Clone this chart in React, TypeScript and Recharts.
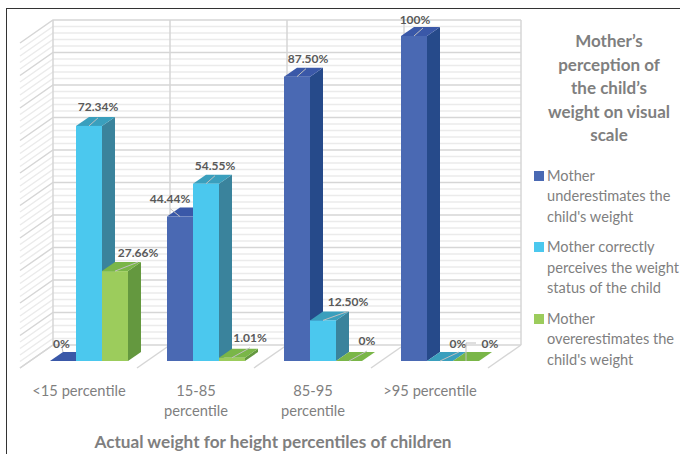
import { Bar, BarChart, CartesianGrid, LabelList, Legend, XAxis, YAxis } from "recharts";

const FONT = "Lato, 'Open Sans', sans-serif";

const categories = ["<15 percentile", "15-85\npercentile", "85-95\npercentile", ">95 percentile"];
const underestimates = [0, 44.44, 87.5, 100];
const correct = [72.34, 54.55, 12.5, 0];
const overestimates = [27.66, 1.01, 0, 0];
const gridTicks = [
  0, 2, 4, 6, 8, 10, 12, 14, 16, 18, 20, 22, 24, 26, 28, 30, 32, 34, 36, 38, 40, 42, 44, 46, 48, 50,
  52, 54, 56, 58, 60, 62, 64, 66, 68, 70, 72, 74, 76, 78, 80, 82, 84, 86, 88, 90, 92, 94, 96, 98, 100,
];

const data = categories.map((category, i) => ({
  category,
  underestimates: underestimates[i],
  correct: correct[i],
  overestimates: overestimates[i],
}));

// extrusion of a bar, and of the back wall relative to the plane of the bars
const BAR_DX = 13;
const BAR_DY = 9;
const WALL_DX = 22.5;
const WALL_DY = 16;
const SIDE_DX = 33;
const SIDE_DY = 23;

// label centre and leader polyline, relative to the middle of the bar's top edge
const blueLabels = [
  { dx: -1.5, dy: -18, leader: [[0, -9], [-1, -13]] },
  { dx: -10, dy: -18, leader: [[0, 0], [-10, -8]] },
  { dx: 11, dy: -18.6, leader: [[0, 0], [9, -8]] },
  { dx: 1, dy: -17, leader: [[0, 0], [9, -8]] },
];
const cyanLabels = [
  { dx: 9, dy: -19.6, leader: [[0, 0], [9, -8]] },
  { dx: 9, dy: -18, leader: [[0, 0], [9, -8]] },
  { dx: 25, dy: -19, leader: [[0, 0], [25, -9]] },
  { dx: 18, dy: -18, leader: [[0, 0], [19, -9]] },
];
const greenLabels = [
  { dx: 23, dy: -19, leader: [[0, 0], [23, -9]] },
  { dx: 18, dy: -20.7, leader: [[0, 0], [18, -10]] },
  { dx: 18, dy: -21, leader: [[0, 0], [18, -10]] },
  { dx: 24, dy: -18, leader: [[0, 0], [0, -18], [10, -18]] },
];

const formatPercent = (v: number) => (Number.isInteger(v) && v % 25 === 0 ? `${v}%` : `${v.toFixed(2)}%`);

const Bar3D = (props: any) => {
  const { x, y, width, height, fill, side, top } = props;
  const r = x + width;
  const b = y + height;
  return (
    <g>
      {height > 0 && (
        <polygon
          points={`${r},${y} ${r + BAR_DX},${y - BAR_DY} ${r + BAR_DX},${b - BAR_DY} ${r},${b}`}
          fill={side}
        />
      )}
      <polygon
        points={`${x},${y} ${r},${y} ${r + BAR_DX},${y - BAR_DY} ${x + BAR_DX},${y - BAR_DY}`}
        fill={top}
      />
      {height > 0 && <rect x={x} y={y} width={width} height={height} fill={fill} />}
    </g>
  );
};

const makeLabel = (layout: typeof blueLabels) => (props: any) => {
  const { x, y, width, value, index } = props;
  const spot = layout[index];
  const cx = x + width / 2;
  const pts = spot.leader.map(([a, b]) => `${cx + a},${y + b}`).join(" ");
  return (
    <g>
      <polyline points={pts} fill="none" stroke="#bfbfbf" strokeWidth={1} />
      <text
        x={cx + spot.dx}
        y={y + spot.dy}
        textAnchor="middle"
        dominantBaseline="central"
        fontFamily={FONT}
        fontSize={12}
        fontWeight={700}
        fill="#595959"
      >
        {formatPercent(value)}
      </text>
    </g>
  );
};

// back wall line plus its run along the side wall
const WallLine = (props: any) => {
  const { x1, x2, y1, index } = props;
  const major = index % 5 === 0;
  const y = y1 - WALL_DY;
  const left = x1 + WALL_DX;
  const right = x2 + WALL_DX;
  return (
    <polyline
      points={`${left - SIDE_DX},${y + SIDE_DY} ${left},${y} ${right},${y}`}
      fill="none"
      stroke={major ? "#d6d6d6" : "#ebebeb"}
      strokeWidth={1.5}
    />
  );
};

// upright on the back wall plus its diagonal across the floor
const FloorLine = (props: any) => {
  const { x1, y1, y2 } = props;
  const x = x1 + WALL_DX;
  return (
    <g fill="none" stroke="#d6d6d6" strokeWidth={1.5}>
      <line x1={x} x2={x} y1={y1 - WALL_DY} y2={y2 - WALL_DY} />
      <line x1={x} x2={x - SIDE_DX} y1={y2 - WALL_DY} y2={y2 - WALL_DY + SIDE_DY} />
    </g>
  );
};

const CategoryTick = (props: any) => {
  const { x, y, payload } = props;
  return (
    <text x={x - 10} y={y} textAnchor="middle" fontFamily={FONT} fontSize={14.7} fill="#7f7f7f">
      {String(payload.value)
        .split("\n")
        .map((line, i) => (
          <tspan key={line} x={x - 10} y={y + 27 + i * 20}>
            {line}
          </tspan>
        ))}
    </text>
  );
};

const legendTitle = ["Mother’s", "perception of", "the child’s", "weight on visual", "scale"];

const LegendPanel = (props: any) => (
  <div style={{ fontFamily: FONT, color: "#7f7f7f", width: 147 }}>
    <div
      style={{
        width: 152,
        textAlign: "center",
        fontWeight: 700,
        fontSize: 17,
        lineHeight: "23.5px",
        marginBottom: 19,
      }}
    >
      {legendTitle.map((line) => (
        <div key={line}>{line}</div>
      ))}
    </div>
    {(props.payload ?? []).map((entry: any) => (
      <div key={entry.value} style={{ position: "relative", paddingLeft: 14, marginBottom: 10, width: 136 }}>
        <span
          style={{
            position: "absolute",
            left: 1,
            top: 5,
            width: 10,
            height: 10,
            background: entry.color,
          }}
        />
        <div style={{ fontSize: 14.6, lineHeight: "20.5px" }}>{entry.value}</div>
      </div>
    ))}
  </div>
);

export default function App() {
  return (
    <div style={{ position: "absolute", left: 0, top: 0, width: 680, height: 454, overflow: "hidden", background: "#fff" }}>
      <div
        style={{
          position: "absolute",
          left: 6,
          top: 8,
          width: 680,
          height: 460,
          borderTop: "1.5px solid #333",
          borderLeft: "1.5px solid #333",
        }}
      />
      <BarChart
        width={680}
        height={454}
        data={data}
        barCategoryGap={19.5}
        barGap={0}
        margin={{ top: 36, right: 34.5, bottom: 0, left: 30.5 }}
        style={{ position: "absolute", left: 0, top: 0 }}
      >
        <CartesianGrid
          horizontal={(p: any) => <WallLine key={p.key} {...p} />}
          vertical={(p: any) => <FloorLine key={p.key} {...p} />}
          verticalCoordinatesGenerator={({ offset }: any) =>
            categories.concat("").map((_, i) => offset.left + (i * offset.width) / categories.length)
          }
        />
        <XAxis
          dataKey="category"
          height={93}
          axisLine={false}
          tickLine={false}
          interval={0}
          tick={<CategoryTick />}
          label={{
            value: "Actual weight for height percentiles of children",
            position: "insideBottom",
            offset: 6,
            dx: 8.5,
            fontFamily: FONT,
            fontSize: 17.2,
            fontWeight: 700,
            fill: "#7f7f7f",
          }}
        />
        <YAxis hide domain={[0, 100]} ticks={gridTicks} interval={0} />
        <Legend
          layout="vertical"
          align="right"
          verticalAlign="top"
          width={147}
          itemSorter={null}
          content={<LegendPanel />}
          wrapperStyle={{ left: 533, top: 29, right: "auto" }}
        />
        <Bar
          dataKey="underestimates"
          name="Mother underestimates the child's weight"
          fill="#4a69b3"
          isAnimationActive={false}
          shape={(p: any) => <Bar3D {...p} side="#264a8a" top="#3a58a8" />}
        >
          <LabelList dataKey="underestimates" content={makeLabel(blueLabels)} />
        </Bar>
        <Bar
          dataKey="correct"
          name="Mother correctly perceives the weight status of the child"
          fill="#4bc8ee"
          isAnimationActive={false}
          shape={(p: any) => <Bar3D {...p} side="#3a839c" top="#3a9fbd" />}
        >
          <LabelList dataKey="correct" content={makeLabel(cyanLabels)} />
        </Bar>
        <Bar
          dataKey="overestimates"
          name="Mother overerestimates the child's weight"
          fill="#9ccc5c"
          isAnimationActive={false}
          shape={(p: any) => <Bar3D {...p} side="#64983f" top="#7ab648" />}
        >
          <LabelList dataKey="overestimates" content={makeLabel(greenLabels)} />
        </Bar>
      </BarChart>
    </div>
  );
}
